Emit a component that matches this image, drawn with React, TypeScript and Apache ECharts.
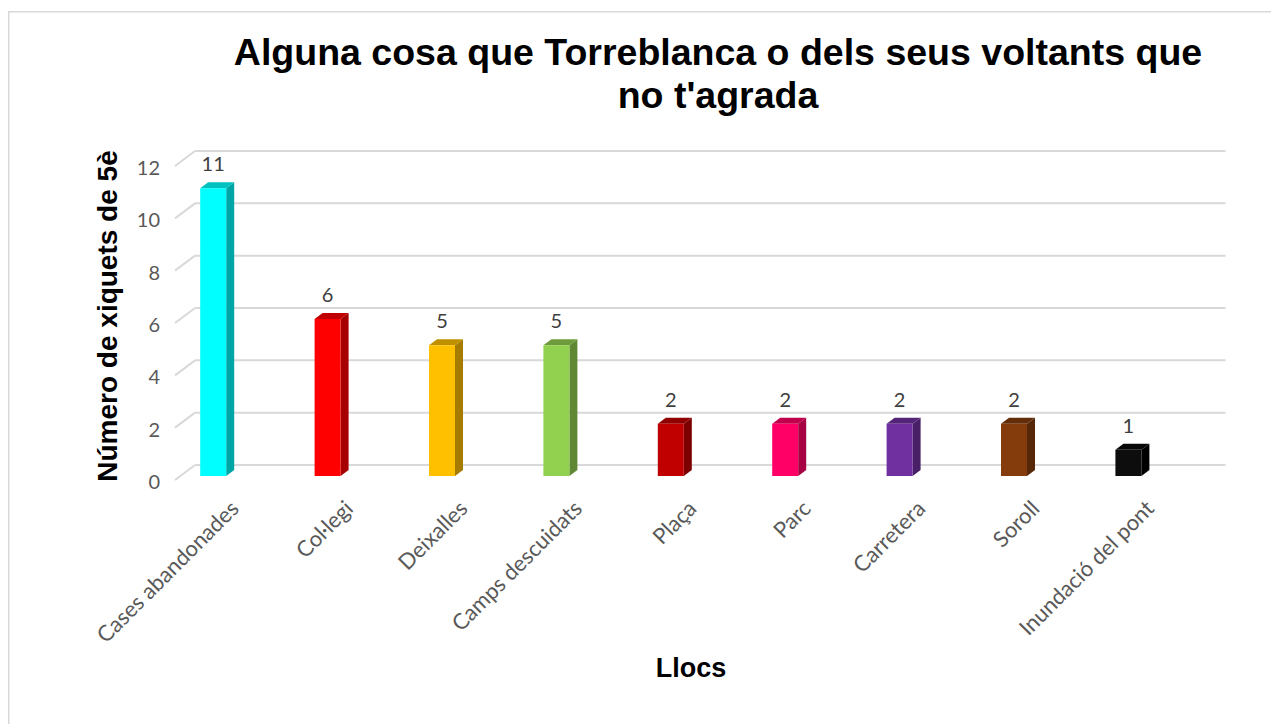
import React, { useEffect, useRef } from "react";
import * as echarts from "echarts";

const titleLines = ["Alguna cosa que Torreblanca o dels seus voltants que", "no t'agrada"];
const yAxisTitle = "Número de xiquets de 5è";
const xAxisTitle = "Llocs";
const categories = [
  "Cases abandonades",
  "Col·legi",
  "Deixalles",
  "Camps descuidats",
  "Plaça",
  "Parc",
  "Carretera",
  "Soroll",
  "Inundació del pont",
];
const values = [11, 6, 5, 5, 2, 2, 2, 2, 1];
const yTicks = [0, 2, 4, 6, 8, 10, 12];
const frontColors = ["#00FFFF", "#FF0000", "#FFC000", "#92D050", "#C00000", "#FF0066", "#7030A0", "#843C0C", "#0D0D0D"];
const sideColors = ["#00A6A6", "#A60000", "#A67C00", "#5F8734", "#7D0000", "#A60042", "#491F68", "#562708", "#000000"];
const topColors = ["#00C0C0", "#C00000", "#C09000", "#6E9C3C", "#900000", "#C0004D", "#542478", "#632D09", "#080808"];

const LABEL_FONT = "Lato, 'Open Sans', sans-serif";
const BOLD_FONT = "'Liberation Sans', Arial, sans-serif";

export default function App() {
  const ref = useRef<HTMLDivElement>(null);
  useEffect(() => {
    if (!ref.current) return;
    const chart = echarts.init(ref.current, undefined, { renderer: "svg" });
    const gridTop = 167;
    const gridBottom = 724 - 481;
    const gridLeft = 156;
    const gridRight = 1271 - 1185.6;
    const labelShift = 21;

    const option: any = {
      animation: false,
      backgroundColor: "#ffffff",
      title: {
        text: titleLines.join("\n"),
        left: 713,
        top: 25,
        textAlign: "center",
        textStyle: {
          fontFamily: BOLD_FONT,
          fontWeight: "bold",
          fontSize: 37.5,
          lineHeight: 43,
          color: "#000000",
        },
      },
      grid: [
        { left: gridLeft, right: gridRight, top: gridTop, bottom: gridBottom },
        { left: gridLeft + labelShift, right: gridRight - labelShift, top: gridTop, bottom: gridBottom },
      ],
      xAxis: [
        {
          type: "category",
          gridIndex: 0,
          data: categories,
          axisLine: { show: false },
          axisTick: { show: false },
          axisLabel: { show: false },
          splitLine: { show: false },
        },
        {
          type: "category",
          gridIndex: 1,
          data: categories,
          axisLine: { show: false },
          axisTick: { show: false },
          splitLine: { show: false },
          axisLabel: {
            interval: 0,
            rotate: 45,
            margin: 23,
            color: "#595959",
            fontFamily: LABEL_FONT,
            fontSize: 22,
          },
        },
      ],
      yAxis: [
        {
          type: "value",
          gridIndex: 0,
          min: 0,
          max: 12,
          interval: 2,
          axisLine: { show: false },
          axisTick: { show: false },
          splitLine: { show: false },
          axisLabel: {
            margin: -4,
            color: "#595959",
            fontFamily: LABEL_FONT,
            fontSize: 20,
          },
        },
        {
          type: "value",
          gridIndex: 1,
          min: 0,
          max: 12,
          show: false,
        },
      ],
      graphic: [
        {
          type: "rect",
          silent: true,
          shape: { x: 8.75, y: 11.75, width: 1400, height: 1000 },
          style: { fill: "none", stroke: "#d9d9d9", lineWidth: 1.5 },
        },
        {
          type: "text",
          x: 107,
          y: 316,
          rotation: Math.PI / 2,
          style: {
            text: yAxisTitle,
            fontFamily: BOLD_FONT,
            fontWeight: "bold",
            fontSize: 28,
            fill: "#000000",
            align: "center",
            verticalAlign: "middle",
          },
        },
        {
          type: "text",
          x: 691,
          y: 668,
          style: {
            text: xAxisTitle,
            fontFamily: BOLD_FONT,
            fontWeight: "bold",
            fontSize: 27,
            fill: "#000000",
            align: "center",
            verticalAlign: "middle",
          },
        },
      ],
      series: [
        {
          type: "custom",
          name: "gridlines",
          xAxisIndex: 0,
          yAxisIndex: 0,
          silent: true,
          clip: false,
          z: 1,
          data: yTicks.map((v) => [0, v]),
          encode: { x: 0, y: 1 },
          renderItem: (params: any, api: any) => {
            const cs = params.coordSys;
            const p = api.coord([0, api.value(1)]);
            const y = p[1] - 16;
            const fx = cs.x + 19;
            const bx = cs.x + 39;
            const rx = cs.x + cs.width + 40;
            const st = { stroke: "#d9d9d9", lineWidth: 2, fill: "none" };
            return {
              type: "group",
              children: [
                { type: "line", shape: { x1: fx, y1: y + 15, x2: bx, y2: y }, style: st },
                { type: "line", shape: { x1: bx, y1: y, x2: rx, y2: y }, style: st },
              ],
            };
          },
        },
        {
          type: "custom",
          name: "Llocs",
          xAxisIndex: 0,
          yAxisIndex: 0,
          clip: false,
          z: 5,
          data: values.map((v, i) => [i, v]),
          encode: { x: 0, y: 1 },
          renderItem: (params: any, api: any) => {
            const i = api.value(0);
            const v = api.value(1);
            const topP = api.coord([i, v]);
            const botP = api.coord([i, 0]);
            const hw = 13;
            const dx = 8;
            const dy = -6;
            const lift = 5;
            const cx = topP[0];
            const yt = topP[1] - lift;
            const yb = botP[1] - lift;
            const idx = params.dataIndex;
            return {
              type: "group",
              children: [
                {
                  type: "polygon",
                  shape: {
                    points: [
                      [cx + hw, yb],
                      [cx + hw + dx, yb + dy],
                      [cx + hw + dx, yt + dy],
                      [cx + hw, yt],
                    ],
                  },
                  style: { fill: sideColors[idx] },
                },
                {
                  type: "polygon",
                  shape: {
                    points: [
                      [cx - hw, yt],
                      [cx - hw + dx, yt + dy],
                      [cx + hw + dx, yt + dy],
                      [cx + hw, yt],
                    ],
                  },
                  style: { fill: topColors[idx] },
                },
                {
                  type: "rect",
                  shape: { x: cx - hw, y: yt, width: hw * 2, height: yb - yt },
                  style: { fill: frontColors[idx] },
                },
                {
                  type: "text",
                  x: cx,
                  y: yt - 25,
                  style: {
                    text: String(v),
                    fontFamily: LABEL_FONT,
                    fontSize: 20,
                    fill: "#404040",
                    align: "center",
                    verticalAlign: "middle",
                  },
                },
              ],
            };
          },
        },
      ],
    };
    chart.setOption(option);
    return () => chart.dispose();
  }, []);
  return (
    <div
      ref={ref}
      style={{ position: "absolute", left: 0, top: 0, width: 1271, height: 724, background: "#fff" }}
    />
  );
}
